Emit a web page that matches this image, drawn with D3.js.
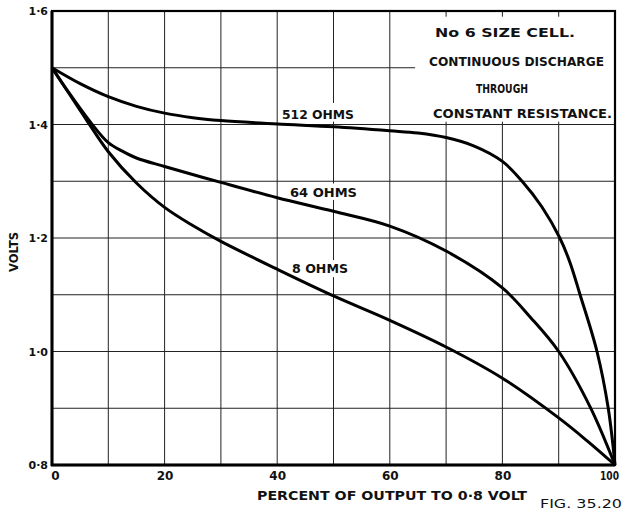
<!DOCTYPE html>
<html>
<head>
<meta charset="utf-8">
<script src="https://cdn.jsdelivr.net/npm/d3@7"></script>
<style>
  html, body { margin: 0; padding: 0; background: #fff; }
  svg { display: block; }
  text { font-family: "DejaVu Sans", sans-serif; fill: #111; }
</style>
</head>
<body>
<svg id="chart" width="624" height="512"></svg>
<script>
// ---- data ----
const pct512   = [0, 5, 10, 15, 20, 25, 30, 40, 50, 60, 65, 70, 75, 80, 83.5, 87, 90.2, 92, 93.8, 96.8, 98.8, 100];
const volts512 = [1.5, 1.472, 1.449, 1.432, 1.42, 1.412, 1.407, 1.401, 1.396, 1.389, 1.385, 1.377, 1.362, 1.335, 1.30, 1.255, 1.2, 1.157, 1.1, 1.0, 0.9, 0.8];

const pct64    = [0, 3, 7, 10, 12.5, 15, 20, 30, 40, 50, 60, 70, 80, 85, 90, 95.6, 100];
const volts64  = [1.5, 1.456, 1.402, 1.368, 1.353, 1.341, 1.326, 1.298, 1.271, 1.247, 1.221, 1.177, 1.112, 1.06, 1.0, 0.902, 0.8];

const pct8     = [0, 3, 6, 10, 15, 20, 25, 30, 40, 50, 60, 70, 80, 90, 95, 100];
const volts8   = [1.5, 1.455, 1.41, 1.352, 1.297, 1.254, 1.222, 1.194, 1.145, 1.098, 1.055, 1.008, 0.953, 0.883, 0.843, 0.8];

const seriesNames = ["512 OHMS", "64 OHMS", "8 OHMS"];
const xTickValues = [0, 20, 40, 60, 80, 100];
const yTickValues = [0.8, 1.0, 1.2, 1.4, 1.6];
const xGridValues = [10, 20, 30, 40, 50, 60, 70, 80, 90];
const yGridValues = [0.9, 1.0, 1.1, 1.2, 1.3, 1.4, 1.5];
const noteLines = ["No 6  SIZE  CELL.", "CONTINUOUS DISCHARGE", "THROUGH", "CONSTANT  RESISTANCE."];
const xTitle = "PERCENT  OF  OUTPUT  TO  0·8 VOLT";
const yTitle = "VOLTS";
const figLabel = "FIG. 35.20";

// ---- drawing ----
const svg = d3.select("#chart");
const x = d3.scaleLinear().domain([0, 100]).range([52, 615]);
const y = d3.scaleLinear().domain([0.8, 1.6]).range([465, 11]);

// grid
const grid = svg.append("g").attr("stroke", "#222").attr("stroke-width", 1);
grid.selectAll("line.v").data(xGridValues).join("line")
  .attr("x1", d => x(d)).attr("x2", d => x(d))
  .attr("y1", y(1.6)).attr("y2", y(0.8));
grid.selectAll("line.h").data(yGridValues).join("line")
  .attr("x1", x(0)).attr("x2", x(100))
  .attr("y1", d => y(d)).attr("y2", d => y(d));

// white knockout boxes behind notes and labels
svg.append("rect").attr("x", x(64.5)).attr("y", y(1.59))
  .attr("width", x(100) - x(64.5)).attr("height", y(1.405) - y(1.59)).attr("fill", "#fff");
const labelBoxes = [
  {x0: 40.5, x1: 54, y0: 1.438, y1: 1.405},
  {x0: 40.9, x1: 54.5, y0: 1.296, y1: 1.267},
  {x0: 42.3, x1: 52.9, y0: 1.161, y1: 1.131}
];
svg.selectAll("rect.lb").data(labelBoxes).join("rect")
  .attr("x", d => x(d.x0)).attr("y", d => y(d.y0))
  .attr("width", d => x(d.x1) - x(d.x0)).attr("height", d => y(d.y1) - y(d.y0))
  .attr("fill", "#fff");

// curves
const series = [
  {p: pct512, v: volts512},
  {p: pct64, v: volts64},
  {p: pct8, v: volts8}
];
const line = d3.line().x(d => x(d[0])).y(d => y(d[1])).curve(d3.curveCatmullRom.alpha(0.5));
svg.selectAll("path.curve").data(series).join("path")
  .attr("fill", "none").attr("stroke", "#000").attr("stroke-width", 3)
  .attr("stroke-linejoin", "round")
  .attr("d", d => line(d.p.map((p, i) => [p, d.v[i]])));

// frame
svg.append("rect").attr("x", x(0)).attr("y", y(1.6))
  .attr("width", x(100) - x(0)).attr("height", y(0.8) - y(1.6))
  .attr("fill", "none").attr("stroke", "#000").attr("stroke-width", 2.2);
svg.append("line").attr("x1", x(0)).attr("x2", x(0)).attr("y1", y(1.6)).attr("y2", y(0.8) + 1)
  .attr("stroke", "#000").attr("stroke-width", 3);
svg.append("line").attr("x1", x(0) - 1).attr("x2", x(100)).attr("y1", y(0.8)).attr("y2", y(0.8))
  .attr("stroke", "#000").attr("stroke-width", 3);

// axes (labels only)
const fmt = d => d3.format(".1f")(d).replace(".", "·");
const yAxis = svg.append("g").attr("transform", `translate(${x(0)},0)`)
  .call(d3.axisLeft(y).tickValues(yTickValues).tickSize(0).tickPadding(4).tickFormat(fmt));
yAxis.select(".domain").remove();
yAxis.selectAll("text").attr("font-size", 11).attr("font-weight", "bold")
  .attr("font-family", "DejaVu Sans").attr("fill", "#111");

const xAxis = svg.append("g").attr("transform", `translate(0,${y(0.8)})`)
  .call(d3.axisBottom(x).tickValues(xTickValues).tickSize(0).tickPadding(6).tickFormat(d3.format("d")));
xAxis.select(".domain").remove();
xAxis.selectAll("text").attr("font-size", 12).attr("font-weight", "bold")
  .attr("font-family", "DejaVu Sans").attr("fill", "#111");
xAxis.selectAll(".tick").filter(d => d === 0).select("text").attr("dx", 3);
xAxis.selectAll(".tick").filter(d => d === 100).select("text")
  .attr("dx", -6).attr("textLength", 19).attr("lengthAdjust", "spacingAndGlyphs");

// series labels
const labelPos = [
  {t: seriesNames[0], x: 282, yb: 119, w: 72},
  {t: seriesNames[1], x: 290, yb: 197, w: 67},
  {t: seriesNames[2], x: 292, yb: 273, w: 56}
];
svg.selectAll("text.sl").data(labelPos).join("text")
  .attr("x", d => d.x).attr("y", d => d.yb)
  .attr("font-size", 12.5).attr("font-weight", "bold")
  .attr("textLength", d => d.w).attr("lengthAdjust", "spacingAndGlyphs")
  .text(d => d.t);

// note block
const notePos = [
  {x: 435, yb: 37, w: 140},
  {x: 429, yb: 66, w: 175},
  {x: 476, yb: 93, w: 52},
  {x: 433, yb: 118, w: 179}
];
svg.selectAll("text.note").data(notePos).join("text")
  .attr("x", d => d.x).attr("y", d => d.yb)
  .attr("font-size", 12).attr("font-weight", "bold")
  .attr("textLength", d => d.w).attr("lengthAdjust", "spacingAndGlyphs")
  .text((d, i) => noteLines[i]);

// axis titles
svg.append("text").attr("x", 257).attr("y", 500)
  .attr("font-size", 12).attr("font-weight", "bold")
  .attr("textLength", 270).attr("lengthAdjust", "spacingAndGlyphs")
  .text(xTitle);
svg.append("text").attr("transform", "translate(18,252) rotate(-90)")
  .attr("text-anchor", "middle")
  .attr("font-size", 11.5).attr("font-weight", "bold")
  .text(yTitle);
svg.append("text").attr("x", 540).attr("y", 508)
  .attr("font-size", 12)
  .attr("textLength", 82).attr("lengthAdjust", "spacingAndGlyphs")
  .text(figLabel);
</script>
</body>
</html>
